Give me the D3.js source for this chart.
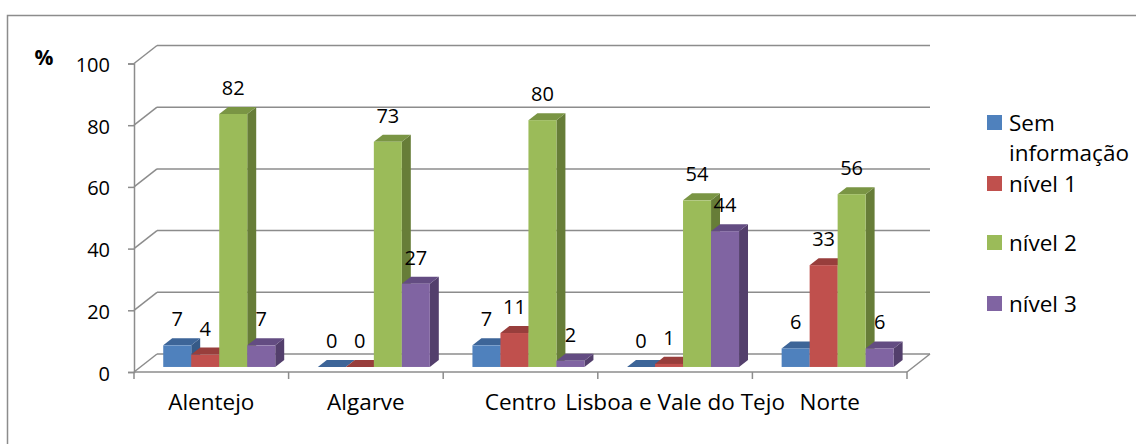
<!DOCTYPE html>
<html>
<head>
<meta charset="utf-8">
<script src="https://cdn.jsdelivr.net/npm/d3@7"></script>
<style>
  body { margin: 0; background: #fff; }
  text { font-family: "Open Sans", sans-serif; fill: #000; }
</style>
</head>
<body>
<svg id="chart" width="1136" height="444"></svg>
<script>
// data
var regions = ["Alentejo", "Algarve", "Centro", "Lisboa e Vale do Tejo", "Norte"];
var seriesNames = ["Sem informação", "nível 1", "nível 2", "nível 3"];
var semInfo = [7, 0, 7, 0, 6];
var nivel1 = [4, 0, 11, 1, 33];
var nivel2 = [82, 73, 80, 54, 56];
var nivel3 = [7, 27, 2, 44, 6];
var yTicks = [0, 20, 40, 60, 80, 100];

var series = [semInfo, nivel1, nivel2, nivel3];
var front = ["#4F81BD", "#C0504D", "#9BBB59", "#8064A2"],
    top_ = ["#3D6598", "#983E3C", "#7A9544", "#634C82"],
    side = ["#365A87", "#853633", "#677D38", "#533F6C"];

var svg = d3.select("#chart"),
  wallDx = 23, wallDy = -18,
  grid = "#8C8C8C",
  fsNum = 20, fsTxt = 22.5;

// outer frame
svg.append("rect")
  .attr("x", 7.5).attr("y", 15.5)
  .attr("width", 1140).attr("height", 440)
  .attr("fill", "none").attr("stroke", grid).attr("stroke-width", 1.5);

var x = d3.scaleBand()
  .domain(regions)
  .range([134, 907]);

var y = d3.scaleLinear()
  .domain([0, 100])
  .range([372, 63.5]);

// projection: depth 0 = front plane, 1 = back wall
var px = function(xv, depth) { return xv + wallDx * depth; };
var py = function(v, depth) { return y(v) + wallDy * depth; };

var gridLayer = svg.append("g");
var barLayer = svg.append("g");
var labelLayer = svg.append("g");

// back wall gridlines and side wall lines
yTicks.forEach(function(t) {
  gridLayer.append("line")
    .attr("x1", px(x.range()[0], 1)).attr("x2", px(x.range()[1], 1))
    .attr("y1", py(t, 1)).attr("y2", py(t, 1))
    .attr("stroke", grid).attr("stroke-width", 1.5);
  gridLayer.append("line")
    .attr("x1", px(x.range()[0], 0)).attr("x2", px(x.range()[0], 1))
    .attr("y1", py(t, 0)).attr("y2", py(t, 1))
    .attr("stroke", grid).attr("stroke-width", 1.5);
});

// floor: front edge and right edge
gridLayer.append("line")
  .attr("x1", x.range()[0]).attr("x2", x.range()[1])
  .attr("y1", y(0)).attr("y2", y(0))
  .attr("stroke", grid).attr("stroke-width", 1.5);
gridLayer.append("line")
  .attr("x1", px(x.range()[1], 0)).attr("x2", px(x.range()[1], 1))
  .attr("y1", py(0, 0)).attr("y2", py(0, 1))
  .attr("stroke", grid).attr("stroke-width", 1.5);

// vertical axis + ticks
var axis = d3.axisLeft(y).tickValues(yTicks).tickSize(6).tickPadding(18);
var axisG = svg.append("g")
  .attr("transform", "translate(134,0)")
  .call(axis);
axisG.select(".domain").attr("stroke", grid).attr("stroke-width", 1.5);
axisG.selectAll(".tick line").attr("stroke", grid).attr("stroke-width", 1.5);
axisG.selectAll(".tick text")
  .attr("font-size", fsNum).attr("font-family", "'Open Sans', sans-serif").attr("fill", "#000")
  .attr("dy", "0.4em");

// category ticks
var catEdges = regions.map(function(r) { return x(r); }).concat([x.range()[1]]);
gridLayer.selectAll(".catTick")
  .data(catEdges)
  .enter().append("line")
  .attr("x1", function(d) { return d; }).attr("x2", function(d) { return d; })
  .attr("y1", y(0)).attr("y2", y(0) + 7)
  .attr("stroke", grid).attr("stroke-width", 1.5);

svg.selectAll(".catLabel")
  .data(regions)
  .enter().append("text")
  .attr("x", function(d) { return x(d) + x.bandwidth() / 2; })
  .attr("y", 410)
  .attr("text-anchor", "middle")
  .attr("font-size", fsTxt)
  .text(function(d) { return d; });

// bars
var xs = d3.scaleBand()
  .domain(d3.range(series.length))
  .range([-56, 56]);
var d0 = 0.28, d1 = 0.67;

regions.forEach(function(r, i) {
  var cx = x(r) + x.bandwidth() / 2 + 1.5;
  series.forEach(function(s, k) {
    var v = s[i],
      xl = cx + xs(k), xr = xl + xs.bandwidth();
    var g = barLayer.append("g");
    var pt = function(xv, val, dep) { return px(xv, dep) + "," + py(val, dep); };
    // side
    g.append("polygon")
      .attr("points", [pt(xr, 0, d0), pt(xr, 0, d1), pt(xr, v, d1), pt(xr, v, d0)].join(" "))
      .attr("fill", side[k]);
    // top
    g.append("polygon")
      .attr("points", [pt(xl, v, d0), pt(xl, v, d1), pt(xr, v, d1), pt(xr, v, d0)].join(" "))
      .attr("fill", top_[k]);
    // front
    g.append("rect")
      .attr("x", px(xl, d0)).attr("y", py(v, d0))
      .attr("width", xs.bandwidth()).attr("height", py(0, d0) - py(v, d0))
      .attr("fill", front[k]);
    labelLayer.append("text")
      .attr("x", px((xl + xr) / 2, d0))
      .attr("y", py(v, d0) - 19)
      .attr("text-anchor", "middle")
      .attr("font-size", fsNum)
      .text(v);
  });
});

// % label
svg.append("text")
  .attr("x", 44).attr("y", 65)
  .attr("text-anchor", "middle")
  .attr("font-size", 21).attr("font-weight", "bold")
  .text("%");

// legend
var legendY = [115, 176, 235, 296];
var legend = svg.append("g");
seriesNames.forEach(function(n, k) {
  legend.append("rect")
    .attr("x", 987).attr("y", legendY[k])
    .attr("width", 15).attr("height", 15)
    .attr("fill", front[k]);
  var t = legend.append("text")
    .attr("x", 1009).attr("y", legendY[k] + 16)
    .attr("font-size", fsTxt);
  if (k === 0) {
    t.append("tspan").attr("x", 1009).text("Sem");
    t.append("tspan").attr("x", 1009).attr("dy", 30).text("informação");
  } else {
    t.text(n);
  }
});
</script>
</body>
</html>
